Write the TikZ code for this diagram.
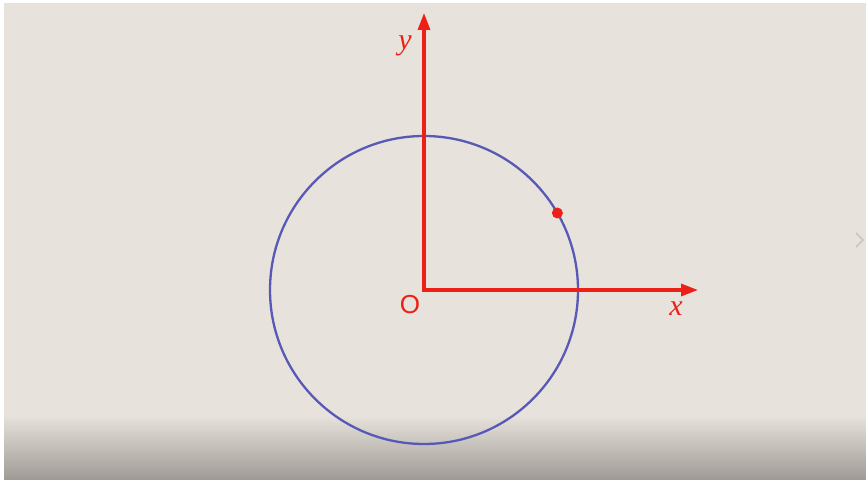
\documentclass[tikz,border=0pt]{standalone}
\usepackage{fontspec}
\setmainfont{Liberation Serif}
\newfontfamily\labelsans{Liberation Sans}
\usepackage{tikz}
\usetikzlibrary{arrows.meta,positioning,calc}

\definecolor{paper}{RGB}{231,227,220}
\definecolor{papershade}{RGB}{160,155,150}
\definecolor{axisred}{RGB}{236,32,22}
\definecolor{circblue}{RGB}{88,88,182}
\definecolor{chevgray}{RGB}{200,198,194}

\begin{document}
\begin{tikzpicture}[
  x=1pt, y=1pt,
  axis/.style={draw=axisred, line width=3.2pt, -{Triangle[length=17pt,width=12pt]}},
  unitcirc/.style={draw=circblue, line width=2.3pt},
  axlabel/.style={text=axisred, font=\fontsize{30}{30}\selectfont\itshape, inner sep=0pt},
]
% paper background
\useasboundingbox (0,0) rectangle (866,479);
\fill[white] (0,0) rectangle (866,479);
\fill[paper] (4,0) rectangle (866,476);
\shade[bottom color=papershade, top color=paper] (4,0) rectangle (866,64);
\draw[chevgray, line width=1.5pt] (856,246) -- (863,239) -- (856,232);
% axes and circle
\coordinate (O) at (424,189);
\coordinate (xtip) at (698,189);
\coordinate (ytip) at (424,466);
\draw[unitcirc] (O) circle (154);
\draw[axis] ([xshift=-1.6pt]O) -- (xtip);
\draw[axis] ([yshift=-1.6pt]O) -- (ytip);
\fill[axisred] ($(O)+(30:154)$) circle (5.5);
% labels
\node[axlabel] (ylab) at (405,433) {y};
\node[axlabel] (xlab) at (676,170) {x};
\node[text=axisred, font=\fontsize{26}{26}\selectfont\labelsans, inner sep=0pt] (olab) at (410,174) {O};
\end{tikzpicture}
\end{document}
